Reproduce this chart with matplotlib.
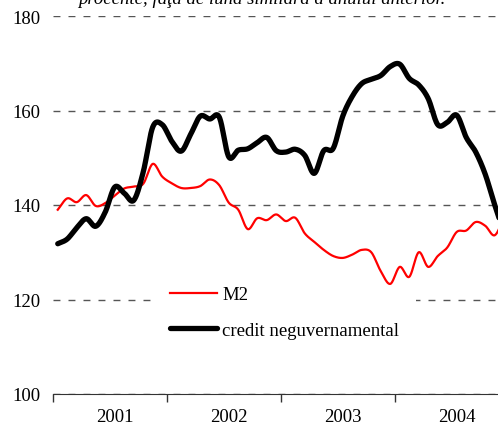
import numpy as np
import matplotlib
matplotlib.use("Agg")
import matplotlib.pyplot as plt
from matplotlib.ticker import FixedLocator, NullFormatter

plt.rcParams['font.family'] = ['Liberation Serif', 'DejaVu Serif']

# monthly data, Jan 2001 - Dec 2004 (index vs. same month of previous year)
years = ['2001', '2002', '2003', '2004']
m2 = [139.0, 141.4, 140.6, 142.1, 139.8, 140.4, 142.0, 143.5, 143.9, 144.5, 148.7, 146.0,
      144.6, 143.6, 143.6, 144.0, 145.4, 144.2, 140.5, 139.0, 134.9, 137.2, 136.8, 138.0,
      136.6, 137.3, 134.0, 132.2, 130.5, 129.2, 128.8, 129.5, 130.5, 130.0, 126.0, 123.3,
      126.9, 124.8, 130.0, 126.9, 129.2, 131.0, 134.3, 134.6, 136.4, 135.6, 133.6, 137.5]
credit = [131.8, 132.8, 135.2, 137.1, 135.5, 138.5, 143.8, 142.5, 141.0, 147.0, 156.5, 157.0,
          153.5, 151.4, 155.0, 158.8, 158.2, 158.6, 150.2, 151.6, 151.9, 153.2, 154.3, 151.5,
          151.2, 151.8, 150.5, 146.7, 151.5, 152.0, 158.8, 163.0, 165.7, 166.6, 167.4, 169.3,
          169.8, 166.8, 165.4, 162.5, 157.0, 157.5, 159.0, 154.3, 151.2, 146.5, 140.0, 134.0]


def smooth(y, n=20):
    # Catmull-Rom curve through the points, like a smoothed Excel line
    y = np.asarray(y, dtype=float)
    x = np.arange(len(y), dtype=float)
    px = np.concatenate([[2 * x[0] - x[1]], x, [2 * x[-1] - x[-2]]])
    py = np.concatenate([[2 * y[0] - y[1]], y, [2 * y[-1] - y[-2]]])
    xs, ys = [], []
    t = np.linspace(0, 1, n, endpoint=False)
    for i in range(1, len(px) - 2):
        for p, out in ((px, xs), (py, ys)):
            p0, p1, p2, p3 = p[i - 1], p[i], p[i + 1], p[i + 2]
            out.append(0.5 * (2 * p1 + (-p0 + p2) * t + (2 * p0 - 5 * p1 + 4 * p2 - p3) * t ** 2
                              + (-p0 + 3 * p1 - 3 * p2 + p3) * t ** 3))
    xs.append([x[-1]])
    ys.append([y[-1]])
    return np.concatenate(xs), np.concatenate(ys)


fig = plt.figure(figsize=(4.98, 4.27), dpi=100)
ax = fig.add_axes([53 / 498, 1 - 395 / 427, 456 / 498, 378 / 427])

x1, y1 = smooth(m2)
x2, y2 = smooth(credit)
ax.plot(x1, y1, color='#ff0000', lw=1.6, label='M2', zorder=3)
ax.plot(x2, y2, color='black', lw=3.8, solid_capstyle='round', label='credit neguvernamental', zorder=4)

ax.set_xlim(-0.5, 47.5)
ax.set_ylim(100, 180)
ax.set_yticks([100, 120, 140, 160, 180])
ax.yaxis.grid(True, color='#555555', lw=1, linestyle=(0, (5, 5.8)))
ax.set_axisbelow(True)
ax.tick_params(axis='y', length=0, pad=9, labelsize=13.5)

ax.xaxis.set_major_locator(FixedLocator([-0.5, 11.5, 23.5, 35.5, 47.5]))
ax.xaxis.set_major_formatter(NullFormatter())
ax.xaxis.set_minor_locator(FixedLocator([6, 18, 30, 42]))
ax.set_xticklabels(years, minor=True)
ax.tick_params(axis='x', which='major', length=6, width=1, color='#333333', direction='out')
ax.tick_params(axis='x', which='minor', length=0, pad=10, labelsize=13.5)

for s in ['top', 'right', 'left']:
    ax.spines[s].set_visible(False)
ax.spines['bottom'].set_color('#333333')

leg = ax.legend(loc='center left', bbox_to_anchor=(153 / 498, 1 - 313.5 / 427),
                bbox_transform=fig.transFigure, fontsize=13.5, frameon=True,
                fancybox=False, edgecolor='none', facecolor='white', framealpha=1,
                handlelength=2.5, handletextpad=0.3, labelspacing=1.0,
                borderpad=0.9, borderaxespad=0)
leg.set_zorder(2.5)

fig.text(262 / 498, 1 - 4 / 427, 'procente, faţă de luna similară a anului anterior.',
         ha='center', va='baseline', fontsize=13.5, style='italic')

fig.savefig('out.png', dpi=100)
